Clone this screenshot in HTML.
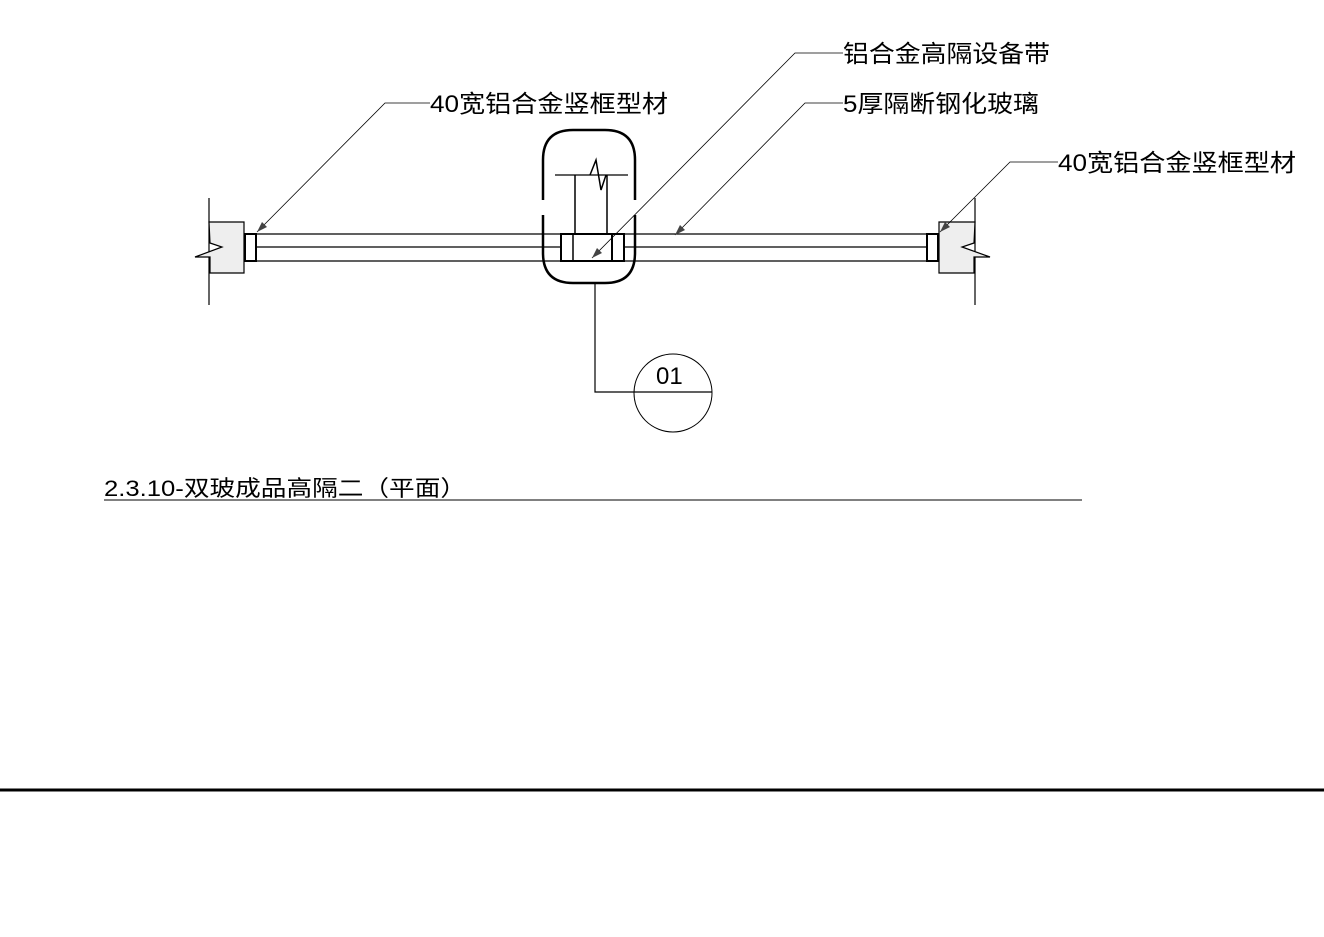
<!DOCTYPE html>
<html><head><meta charset="utf-8"><style>
html,body{margin:0;padding:0;background:#fff;}
svg{display:block;}
text{font-family:"Liberation Sans","Noto Sans CJK SC",sans-serif;fill:#000;}
</style></head><body>
<svg width="1324" height="937" viewBox="0 0 1324 937" xmlns="http://www.w3.org/2000/svg">
<g stroke="#000" fill="none">
<!-- walls -->
<line x1="209" y1="198" x2="209" y2="305" stroke-width="1.2"/>
<line x1="975" y1="198" x2="975" y2="305" stroke-width="1.2"/>
<path d="M209 222 H244 V273 H210 V257 L195 257 L222 247 L210 243 Z" fill="#eee" stroke-width="1.2"/>
<path d="M975 222 H939 V273 H974 V257 L990 257 L962 247 L974 243 Z" fill="#eee" stroke-width="1.2"/>
<!-- frames -->
<rect x="245" y="234" width="11" height="27" stroke-width="2"/>
<rect x="927" y="234" width="11" height="27" stroke-width="2"/>
<!-- glass -->
<line x1="256" y1="234" x2="927" y2="234" stroke-width="1.2"/>
<line x1="256" y1="247" x2="927" y2="247" stroke-width="1.2"/>
<line x1="256" y1="261" x2="927" y2="261" stroke-width="1.2"/>
<!-- center box -->
<path d="M543 200 V160 Q543 130 573 130 H605 Q635 130 635 160 V200 M635 215 V253 Q635 283 605 283 H573 Q543 283 543 253 V215" stroke-width="2.5"/>
<line x1="555" y1="175" x2="628" y2="175" stroke-width="1.2"/>
<path d="M575 234 V175 M607 234 V175 M590 175 L596 160 L601 190 L606 175" stroke-width="1.5"/>
<rect x="561" y="234" width="63" height="27" fill="#fff" stroke-width="2"/>
<line x1="573" y1="234" x2="573" y2="261" stroke-width="1.5"/>
<line x1="612" y1="234" x2="612" y2="261" stroke-width="2"/>
<line x1="561" y1="261" x2="624" y2="261" stroke-width="2"/>
<!-- detail callout -->
<path d="M595 283 V392 H712" stroke-width="1.2"/>
<circle cx="673" cy="393" r="39" stroke-width="1"/>
<!-- leaders -->
<g stroke-width="0.8">
<path d="M257 232 L385 103 H430"/>
<path d="M592 258 L795 53 H843"/>
<path d="M675 235 L805 103 H843"/>
<path d="M940 232 L1010 162 H1058"/>
</g>
<!-- title line & bottom -->
<line x1="104" y1="500" x2="1082" y2="500" stroke-width="1"/>
<line x1="0" y1="790" x2="1324" y2="790" stroke-width="3"/>
</g>
<g fill="#444">
<polygon points="257,232 262,222 267,227"/>
<polygon points="592,258 597,248 602,253"/>
<polygon points="675,235 680,225 685,230"/>
<polygon points="940,232 945,222 950,227"/>
</g>
<text x="430" y="112" font-size="24" textLength="238" lengthAdjust="spacingAndGlyphs">40宽铝合金竖框型材</text>
<text x="843" y="62" font-size="24" textLength="207" lengthAdjust="spacingAndGlyphs">铝合金高隔设备带</text>
<text x="843" y="112" font-size="24" textLength="196" lengthAdjust="spacingAndGlyphs">5厚隔断钢化玻璃</text>
<text x="1058" y="171" font-size="24" textLength="238" lengthAdjust="spacingAndGlyphs">40宽铝合金竖框型材</text>
<text x="656" y="384" font-size="24">01</text>
<text x="104" y="496" font-size="22" textLength="362" lengthAdjust="spacingAndGlyphs">2.3.10-双玻成品高隔二（平面）</text>
</svg>
</body></html>
